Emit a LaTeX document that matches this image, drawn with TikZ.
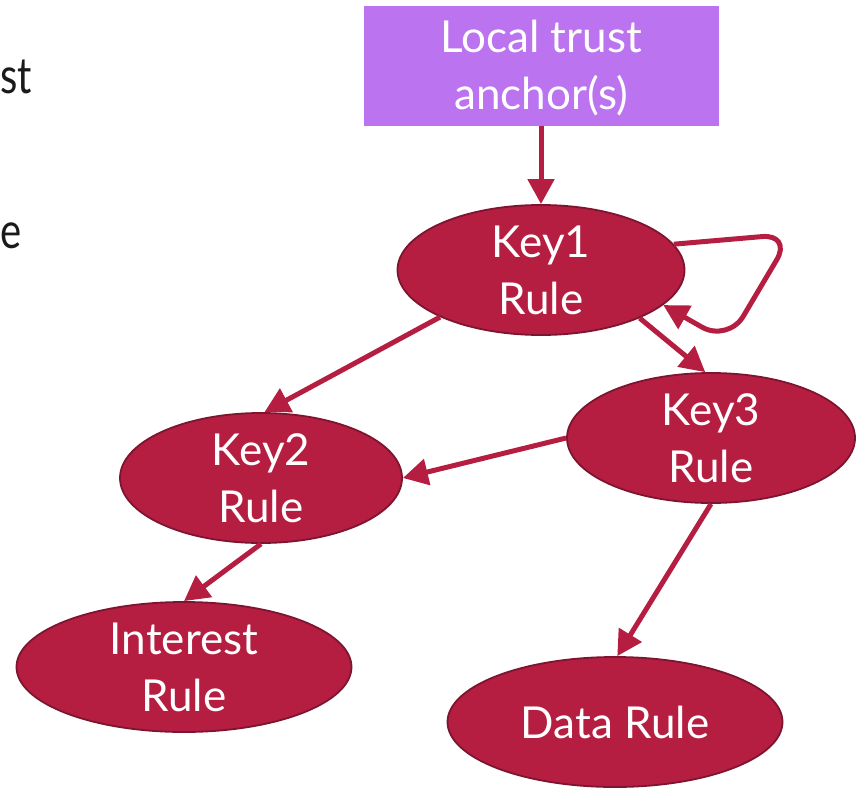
\documentclass[tikz,border=0pt]{standalone}
\usepackage{fontspec}
\setmainfont{Lato}
\usetikzlibrary{shapes.geometric,arrows.meta}
\definecolor{crim}{HTML}{B61E41}
\definecolor{crimdark}{HTML}{7D1530}
\definecolor{anchorfill}{HTML}{BC73EF}
\definecolor{ink}{HTML}{1A1A1A}

\begin{document}
\begin{tikzpicture}[x=1pt,y=-1pt,
  rulenode/.style={ellipse, fill=crim, draw=crimdark, line width=1.8pt, inner sep=0pt},
  rtext/.style={text=white, font=\fontsize{44}{57}\selectfont, align=center, inner sep=0pt},
  slidetext/.style={text=ink, font=\fontsize{50}{60}\selectfont, inner sep=0pt, anchor=base west, xscale=0.8},
  link/.style={draw=crim, line width=5pt, -{Triangle[length=25pt,width=26pt]}},
]
\useasboundingbox (0,0) rectangle (859,787);

% cut-off slide text on the left
\node[slidetext] (frag1) at (0,93) {st};
\node[slidetext] (frag2) at (0,248) {e};

% trust anchor box
\node[fill=anchorfill, minimum width=355pt, minimum height=120pt, inner sep=0pt] (anchor) at (541,66) {};
\node[rtext] (anchort) at (541,68) {Local trust\\anchor(s)};

% rule ellipses
\node[rulenode, minimum width=287pt, minimum height=130pt] (k1) at (541,270) {};
\node[rulenode, minimum width=282pt, minimum height=130pt] (k2) at (261,478) {};
\node[rulenode, minimum width=288pt, minimum height=130pt] (k3) at (711,438) {};
\node[rulenode, minimum width=335pt, minimum height=130pt] (ir) at (184,667) {};
\node[rulenode, minimum width=335pt, minimum height=130pt] (dr) at (615,722) {};

\node[rtext] (k1t) at (k1) {Key1\\Rule};
\node[rtext] (k2t) at (k2) {Key2\\Rule};
\node[rtext] (k3t) at (k3) {Key3\\Rule};
\node[rtext] (irt) at (ir) {Interest\\Rule};
\node[rtext] (drt) at (dr) {Data Rule};

% trust links
\draw[link] (anchor.south) -- (k1.north);
\draw[link] (k1.205) -- (k2.87);
\draw[link] (k1.-26) -- (k3.95);
\draw[link] (k3.west) -- (k2.east);
\draw[link] (k2.south) -- (ir.90);
\draw[link] (k3.-90) -- (dr.88);
% self-signed loop on Key1
\coordinate (loopa) at (792,234);
\coordinate (loopb) at (728,342);
\draw[link, rounded corners=30pt] (k1.11) -- (loopa) -- (loopb) -- (k1.-16);
\end{tikzpicture}
\end{document}
